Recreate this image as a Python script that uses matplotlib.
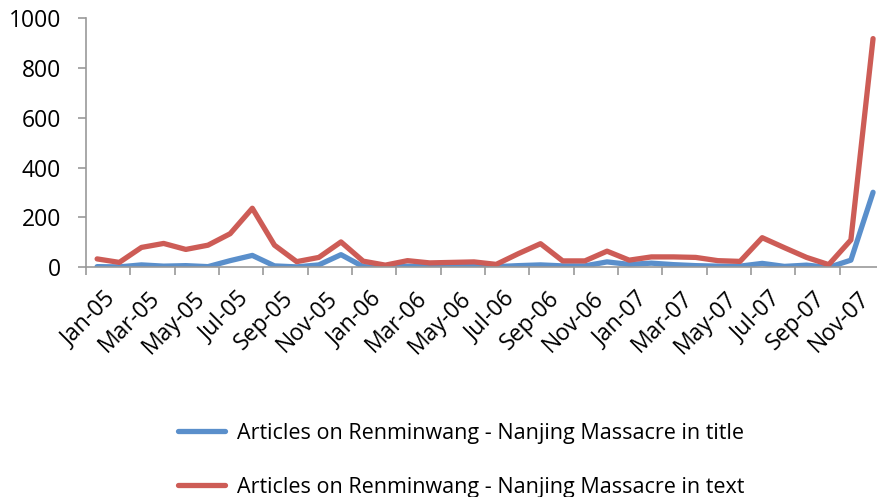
import matplotlib.pyplot as plt
import matplotlib.transforms as mtransforms
import numpy as np

# monthly counts, Jan-05 .. Dec-07
months = ['Jan-05', 'Feb-05', 'Mar-05', 'Apr-05', 'May-05', 'Jun-05', 'Jul-05', 'Aug-05',
          'Sep-05', 'Oct-05', 'Nov-05', 'Dec-05', 'Jan-06', 'Feb-06', 'Mar-06', 'Apr-06',
          'May-06', 'Jun-06', 'Jul-06', 'Aug-06', 'Sep-06', 'Oct-06', 'Nov-06', 'Dec-06',
          'Jan-07', 'Feb-07', 'Mar-07', 'Apr-07', 'May-07', 'Jun-07', 'Jul-07', 'Aug-07',
          'Sep-07', 'Oct-07', 'Nov-07', 'Dec-07']
in_title = [3, 2, 10, 5, 7, 3, 27, 48, 6, 2, 10, 51,
            3, 0, 5, 3, 3, 5, 3, 7, 10, 6, 6, 22,
            12, 17, 11, 7, 5, 5, 16, 4, 9, 0, 29, 301]
in_text = [34, 20, 80, 96, 72, 89, 135, 237, 89, 23, 40, 102,
           25, 9, 27, 18, 20, 22, 12, 55, 95, 26, 26, 65,
           29, 42, 42, 40, 27, 24, 119, 79, 40, 11, 110, 917]
label_title = 'Articles on Renminwang - Nanjing Massacre in title'
label_text = 'Articles on Renminwang - Nanjing Massacre in text'

plt.rcParams['font.family'] = ['Open Sans', 'DejaVu Sans']

fig = plt.figure(figsize=(8.78, 4.97), dpi=100)
ax = fig.add_axes([0.098, 0.462, 0.909, 0.502])

x = np.arange(len(months))
l1, = ax.plot(x, in_title, color='#5A8FCB', lw=3.8, solid_joinstyle='round', solid_capstyle='round')
l2, = ax.plot(x, in_text, color='#CD5C56', lw=3.8, solid_joinstyle='round', solid_capstyle='round')

ax.set_xlim(-0.5, 35.5)
ax.set_ylim(0, 1000)
ax.set_yticks(range(0, 1001, 200))
ax.tick_params(axis='y', labelsize=16.5, length=6, color='#999999', width=1.2, pad=12)

# ticks between categories, labels on every second month
ax.set_xticks(np.arange(-0.5, 36, 2))
ax.set_xticklabels([])
ax.set_xticks(x[::2], minor=True)
ax.set_xticklabels(months[::2], minor=True, rotation=45, ha='right', rotation_mode='anchor', fontsize=16.5)
ax.tick_params(axis='x', which='major', length=6, color='#999999', width=1.2, direction='out')
ax.tick_params(axis='x', which='minor', length=0, pad=14)
shift = mtransforms.ScaledTranslation(5 / 72, 0, fig.dpi_scale_trans)
for t in ax.get_xticklabels(minor=True):
    t.set_transform(t.get_transform() + shift)

for s in ['top', 'right']:
    ax.spines[s].set_visible(False)
for s in ['left', 'bottom']:
    ax.spines[s].set_color('#999999')
    ax.spines[s].set_linewidth(1.2)

fig.legend([l1, l2], [label_title, label_text], loc='center left', bbox_to_anchor=(0.2025, 0.074),
           frameon=False, fontsize=15.5, handlelength=2.2, handletextpad=0.55,
           labelspacing=1.53, borderaxespad=0, borderpad=0)

fig.savefig('out.png', dpi=100)
